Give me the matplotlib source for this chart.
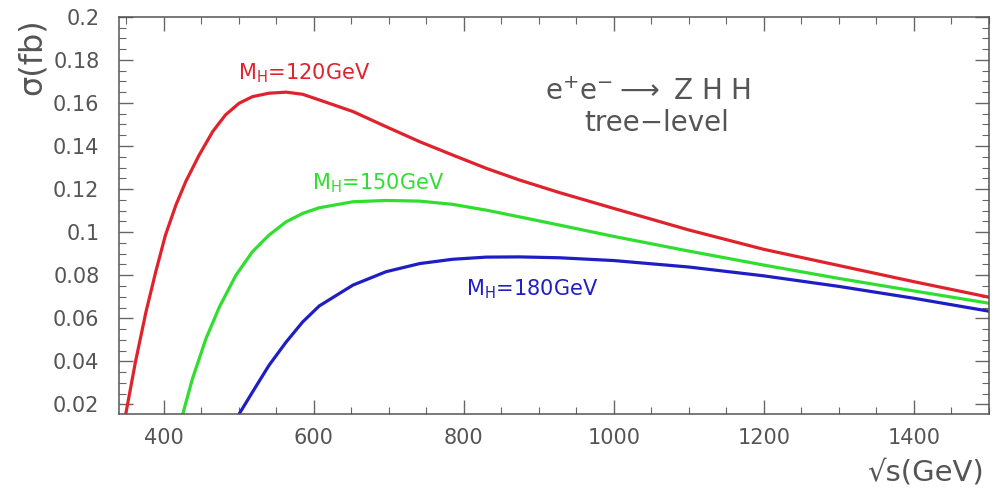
import numpy as np
import matplotlib
matplotlib.use("Agg")
import matplotlib.pyplot as plt
from matplotlib.ticker import MultipleLocator

# ===============================
# DATA
# ===============================

# M_H = 120 GeV
s_120 = [349, 362, 376, 389, 402, 416, 429, 447, 465, 482, 500, 518, 540, 563,
         585, 607, 652, 696, 741, 785, 830, 874, 927, 1000, 1100, 1200, 1300,
         1400, 1500]
sig_120 = [0.0154, 0.0397, 0.0629, 0.0815, 0.0986, 0.1126, 0.1234, 0.1358, 0.1467,
           0.1544, 0.1598, 0.1629, 0.1645, 0.1650, 0.1640, 0.1614, 0.1560, 0.1490,
           0.1420, 0.1358, 0.1296, 0.1242, 0.1184, 0.1110, 0.1010, 0.0920, 0.0845,
           0.0770, 0.0698]

# M_H = 150 GeV
s_150 = [425, 438, 456, 474, 496, 518, 540, 563, 585, 607, 652, 696, 741, 785,
         830, 874, 927, 1000, 1100, 1200, 1300, 1400, 1500]
sig_150 = [0.0154, 0.0319, 0.0505, 0.0653, 0.0800, 0.0909, 0.0986, 0.1048, 0.1087,
           0.1113, 0.1141, 0.1147, 0.1144, 0.1129, 0.1102, 0.1071, 0.1033, 0.0980,
           0.0912, 0.0847, 0.0785, 0.0727, 0.0670]

# M_H = 180 GeV
s_180 = [500, 518, 540, 563, 585, 607, 652, 696, 741, 785, 830, 874, 927, 1000,
         1100, 1200, 1300, 1400, 1500]
sig_180 = [0.0154, 0.0257, 0.0381, 0.0490, 0.0583, 0.0657, 0.0754, 0.0816, 0.0854,
           0.0874, 0.0884, 0.0885, 0.0881, 0.0868, 0.0838, 0.0797, 0.0748, 0.0693,
           0.0633]

x_ticks = [400, 600, 800, 1000, 1200, 1400]
y_ticks = [0.02, 0.04, 0.06, 0.08, 0.1, 0.12, 0.14, 0.16, 0.18, 0.2]
y_tick_labels = ["0.02", "0.04", "0.06", "0.08", "0.1", "0.12", "0.14", "0.16", "0.18", "0.2"]

# ===============================
# PLOT
# ===============================

plt.rcParams["font.family"] = ["DejaVu Sans"]
plt.rcParams["mathtext.fontset"] = "dejavusans"

fig = plt.figure(figsize=(10.08, 4.93), dpi=100)
ax = fig.add_axes([0.118, 0.160, 0.863, 0.806])

red, green, blue = "#e0222c", "#30de30", "#1e1ec4"
ax.plot(s_120, sig_120, color=red, lw=2.3)
ax.plot(s_150, sig_150, color=green, lw=2.3)
ax.plot(s_180, sig_180, color=blue, lw=2.3)

ax.set_xlim(340, 1500)
ax.set_ylim(0.0155, 0.2)

ax.set_xticks(x_ticks)
ax.xaxis.set_minor_locator(MultipleLocator(50))
ax.set_yticks(y_ticks)
ax.set_yticklabels(y_tick_labels)
ax.yaxis.set_minor_locator(MultipleLocator(0.005))

gray = "#555555"
ax.tick_params(which="both", direction="in", top=True, right=True, color="#666666")
ax.tick_params(which="major", length=10, width=1)
ax.tick_params(which="minor", length=5, width=0.8)
ax.tick_params(axis="x", labelsize=15, labelcolor=gray, pad=10)
ax.tick_params(axis="y", labelsize=15, labelcolor=gray, pad=14)
for sp in ax.spines.values():
    sp.set_color("#555555")
    sp.set_linewidth(1.1)

# curve labels
ax.text(499, 0.1737, r"M$_\mathregular{H}$=120GeV", color=red, fontsize=15, va="center")
ax.text(598, 0.1226, r"M$_\mathregular{H}$=150GeV", color=green, fontsize=15, va="center")
ax.text(803, 0.0735, r"M$_\mathregular{H}$=180GeV", color=blue, fontsize=15, va="center")

# process text
ax.text(1045, 0.165, r"e$^{+}$e$^{-}$$\longrightarrow$ Z H H", color=gray, fontsize=20,
        ha="center", va="center")
ax.text(1057, 0.1507, "tree\u2212level", color=gray, fontsize=20, ha="center", va="center")

# axis titles
fig.text(32 / 1008, 1 - 57 / 493, "\u03c3(fb)", rotation=90, color=gray, fontsize=23,
         ha="center", va="center")
fig.text(925 / 1008, 1 - 473 / 493, "\u221as(GeV)", color=gray, fontsize=21,
         ha="center", va="center")

plt.savefig("out.png", dpi=100)
